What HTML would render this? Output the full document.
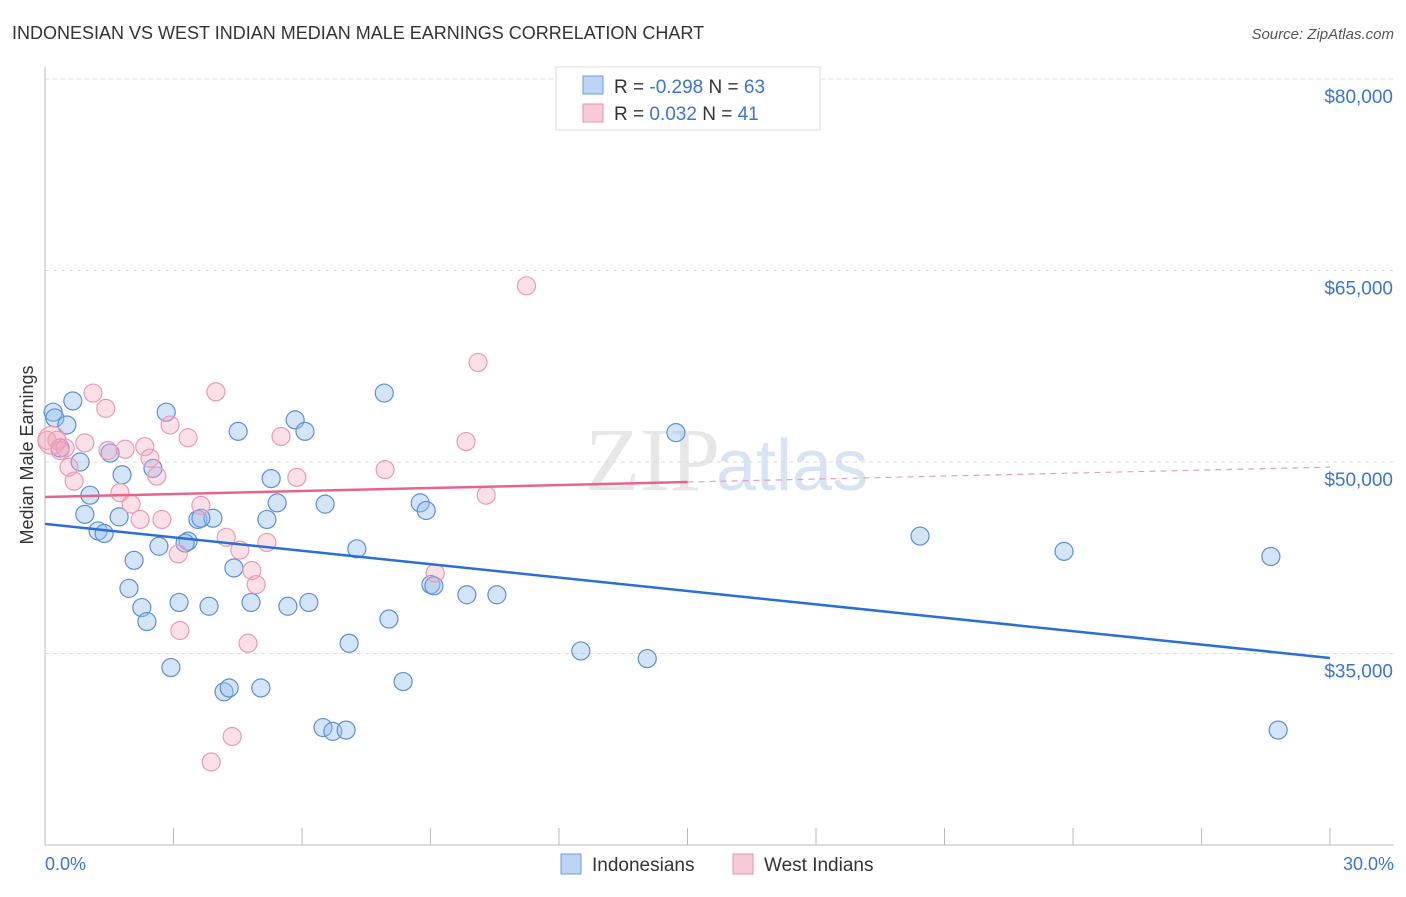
<!DOCTYPE html>
<html><head><meta charset="utf-8"><style>
body{margin:0;background:#fff;font-family:"Liberation Sans",sans-serif}
</style></head><body>
<svg width="1406" height="892" viewBox="0 0 1406 892" xmlns="http://www.w3.org/2000/svg">
<text x="12" y="39" font-size="18" fill="#333">INDONESIAN VS WEST INDIAN MEDIAN MALE EARNINGS CORRELATION CHART</text>
<text x="1394" y="39" font-size="15" fill="#555" text-anchor="end" font-style="italic">Source: ZipAtlas.com</text>
<g id="grid"></g>
<line x1="45" y1="67" x2="45" y2="845" stroke="#bbb"/>
<line x1="45" y1="845" x2="1394" y2="845" stroke="#bbb"/>
<text x="45" y="870" font-size="18" fill="#3a74d8">0.0%</text>
<text x="1394" y="870" font-size="18" fill="#3a74d8" text-anchor="end">30.0%</text>
<text transform="translate(33,455) rotate(-90)" font-size="18" fill="#333" text-anchor="middle">Median Male Earnings</text>
<text x="720" y="490" font-size="90" fill="#ddd" text-anchor="end" font-family="Liberation Serif" opacity="0.7">ZIP</text>
<text x="716" y="490" font-size="72" fill="#c8d8f0" opacity="0.7">atlas</text>
<g id="pts"></g>
<g id="lines"></g>
<g>
<rect x="556" y="67" width="264" height="63" fill="#fff" stroke="#ddd"/>
<rect x="583" y="76" width="20" height="18" fill="#bcd5f5" stroke="#6a9ae0"/>
<rect x="583" y="104" width="20" height="18" fill="#f9cbd8" stroke="#e98fac"/>
<text x="614" y="93" font-size="19" fill="#333">R = <tspan fill="#3a74d8">-0.298</tspan>   N = <tspan fill="#3a74d8">63</tspan></text>
<text x="614" y="120" font-size="19" fill="#333">R =  <tspan fill="#3a74d8">0.032</tspan>   N =  <tspan fill="#3a74d8">41</tspan></text>
</g>
<g>
<rect x="561" y="854" width="20" height="20" fill="#bcd5f5" stroke="#6a9ae0"/>
<text x="592" y="871" font-size="19" fill="#333">Indonesians</text>
<rect x="733" y="854" width="20" height="20" fill="#f9cbd8" stroke="#e98fac"/>
<text x="764" y="871" font-size="19" fill="#333">West Indians</text>
</g>
</svg>
<script>
const yTicks=[80000,65000,50000,35000];
const yTickLabels=["$80,000","$65,000","$50,000","$35,000"];
const xTicks=[0,3,6,9,12,15,18,21,24,27,30];
const blueX=[0.19,0.23,0.65,0.51,0.35,0.82,1.05,0.93,1.24,1.38,1.52,1.80,1.73,1.96,2.08,2.26,2.38,2.52,2.83,2.66,2.94,3.13,3.34,3.27,3.57,3.92,3.83,3.64,4.18,4.30,4.41,4.51,4.81,5.04,5.18,5.28,5.42,5.67,5.84,6.07,6.16,6.54,6.49,6.72,7.03,7.10,7.28,7.92,8.03,8.36,8.76,8.90,9.01,9.08,9.85,10.55,12.51,14.06,14.73,20.43,23.79,28.62,28.79];
const blueY=[53900,53450,54780,52900,51100,50000,47400,45900,44600,44400,50700,49000,45700,40100,42300,38600,37500,49500,53900,43400,33900,39000,43800,43650,45500,45600,38700,45600,32000,32300,41700,52400,39000,32300,45500,48700,46800,38700,53300,52400,39000,46700,29200,28900,29000,35800,43200,55400,37700,32800,46800,46200,40400,40300,39600,39600,35200,34600,52300,44200,43000,42600,29000];
const pinkX=[0.05,0.28,0.35,0.56,0.68,0.93,1.12,1.42,1.47,1.87,1.75,2.01,2.22,2.33,2.45,2.61,2.73,2.92,3.15,3.11,3.34,3.64,3.99,4.23,4.55,4.83,4.93,4.74,4.37,3.88,5.18,5.51,5.88,7.94,9.11,9.83,10.11,10.30,11.24,0.16,0.47];
const pinkY=[51700,51700,50900,49600,48500,51500,55400,54200,50900,51000,47600,46700,45500,51200,50300,48900,45500,52900,36800,42800,51900,46600,55500,44100,43100,41500,40400,35800,28500,26500,43700,52000,48800,49400,41300,51600,57800,47400,63800,51700,51100];
const blueTrend=[45150,34650];
const pinkTrend=[47260,49600];
const NS="http://www.w3.org/2000/svg";
const X=v=>45+v/30*1285;
const Y=v=>79+(80000-v)/15000*191.5;
function mk(t,a,p){const e=document.createElementNS(NS,t);for(const k in a)e.setAttribute(k,a[k]);p.appendChild(e);return e;}
const grid=document.getElementById('grid');
yTicks.forEach((t,i)=>{
 const l=mk('line',{x1:45,x2:1394,y1:Y(t),y2:Y(t),stroke:'#ddd','stroke-dasharray':'4,4'},grid);
 
 
 const tx=mk('text',{x:1393,y:Y(t)+24,'font-size':19,fill:'#3a74d8','text-anchor':'end'},grid);
 tx.textContent=yTickLabels[i];
 
 
});
xTicks.forEach(t=>{
 const l=mk('line',{x1:X(t),x2:X(t),y1:828,y2:845,stroke:'#bbb'},grid);
 
 
});
const pts=document.getElementById('pts');
blueX.forEach((x,i)=>{
 const c=mk('circle',{cx:X(x),cy:Y(blueY[i]),r:9,fill:'rgba(150,190,240,0.4)',stroke:'#5b8fd8','stroke-width':1.2},pts);
 
 
});
pinkX.forEach((x,i)=>{
 const c=mk('circle',{cx:X(x),cy:Y(pinkY[i]),r:i==39?14:9,fill:'rgba(244,165,190,0.35)',stroke:'#ec9ab3','stroke-width':1.2},pts);
 
 
});
const lines=document.getElementById('lines');
const bl=mk('line',{x1:X(0),y1:Y(blueTrend[0]),x2:X(30),y2:Y(blueTrend[1]),stroke:'#2a6fd8','stroke-width':2.5},lines);


const pm=pinkTrend[0]+(pinkTrend[1]-pinkTrend[0])*0.5;
const pl=mk('line',{x1:X(0),y1:Y(pinkTrend[0]),x2:X(15),y2:Y(pm),stroke:'#e8648c','stroke-width':2.5},lines);


const pd=mk('line',{x1:X(15),y1:Y(pm),x2:X(30),y2:Y(pinkTrend[1]),stroke:'#e8a0b5','stroke-width':1.2,'stroke-dasharray':'6,5'},lines);


</script>
</body></html>
